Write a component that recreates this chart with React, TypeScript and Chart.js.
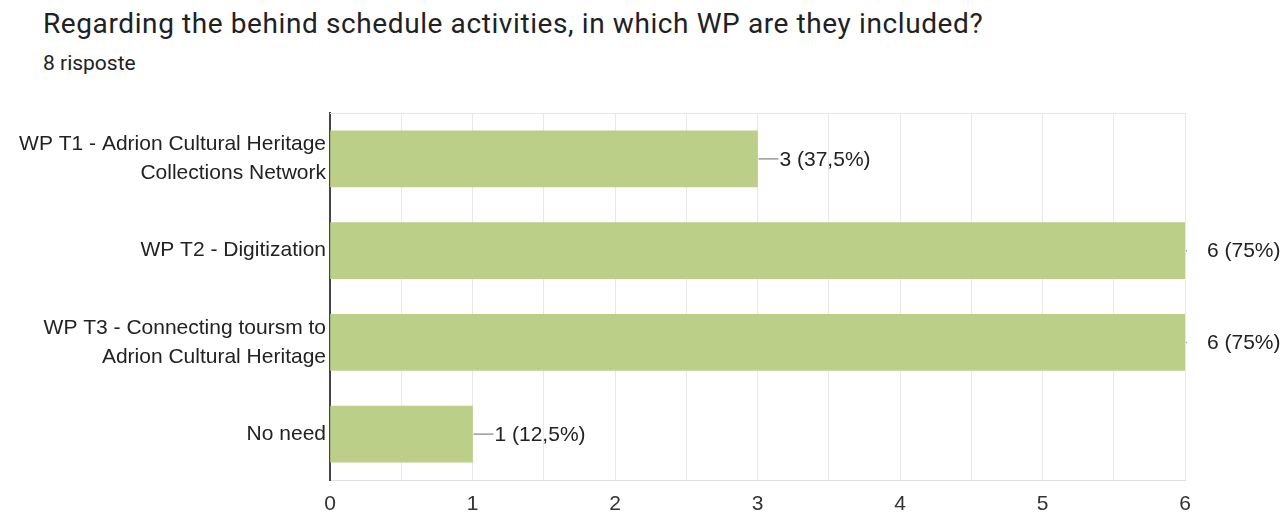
import React, { useEffect, useRef } from "react";
import { Chart, registerables } from "chart.js";

Chart.register(...registerables);

const TITLE = "Regarding the behind schedule activities, in which WP are they included?";
const SUBTITLE = "8 risposte";
const TOTAL_RESPONSES = 8;
const categories: (string | string[])[] = [
  ["WP T1 - Adrion Cultural Heritage", "Collections Network"],
  "WP T2 - Digitization",
  ["WP T3 - Connecting toursm to", "Adrion Cultural Heritage"],
  "No need",
];
const values = [3, 6, 6, 1];
const xTickLabels = ["0", "1", "2", "3", "4", "5", "6"];

const FONT_FAMILY = "'Liberation Sans', Arial, sans-serif";
const LABEL_FONT = `21px ${FONT_FAMILY}`;

const valueLabelPlugin = {
  id: "valueLabels",
  afterDatasetsDraw(chart: any) {
    const ctx = chart.ctx;
    const area = chart.chartArea;
    const meta = chart.getDatasetMeta(0);
    ctx.save();
    meta.data.forEach((el: any, i: number) => {
      const v = values[i];
      const pct = String((v / TOTAL_RESPONSES) * 100).replace(".", ",");
      const text = `${v} (${pct}%)`;
      const x = el.x;
      const y = el.y;
      const lineEnd = Math.min(x + 21, area.right + 2);
      ctx.strokeStyle = "#9a9a9a";
      ctx.lineWidth = 1.5;
      ctx.beginPath();
      ctx.moveTo(x + 1, y);
      ctx.lineTo(lineEnd, y);
      ctx.stroke();
      ctx.fillStyle = "#222222";
      ctx.font = LABEL_FONT;
      ctx.textAlign = "left";
      ctx.textBaseline = "middle";
      ctx.fillText(text, x + 22, y + 1);
    });
    // top frame line
    ctx.strokeStyle = "#e6e6e6";
    ctx.lineWidth = 1;
    ctx.beginPath();
    ctx.moveTo(area.left, area.top + 0.5);
    ctx.lineTo(area.right, area.top + 0.5);
    ctx.stroke();
    ctx.restore();
  },
};

export default function App() {
  const canvasRef = useRef<HTMLCanvasElement | null>(null);

  useEffect(() => {
    if (!canvasRef.current) return;
    const chart = new Chart(canvasRef.current, {
      type: "bar",
      data: {
        labels: categories as any,
        datasets: [
          {
            data: values,
            backgroundColor: "#bccf88",
            borderWidth: 0,
            barThickness: 56,
          },
        ],
      },
      options: {
        indexAxis: "y",
        animation: false,
        responsive: false,
        maintainAspectRatio: false,
        layout: { padding: { top: 113, right: 100, left: 0, bottom: 0 } },
        plugins: {
          legend: { display: false },
          tooltip: { enabled: false },
          title: { display: false },
        },
        scales: {
          x: {
            min: 0,
            max: 6,
            ticks: {
              stepSize: 0.5,
              autoSkip: false,
              maxRotation: 0,
              padding: 12,
              color: "#333333",
              font: { family: FONT_FAMILY, size: 21 },
              callback: (val: any) => {
                const n = Number(val);
                return Number.isInteger(n) ? xTickLabels[n] : "";
              },
            },
            grid: { color: "#e8e8e8", lineWidth: 1, drawTicks: false },
            border: { color: "#e0e0e0", width: 1 },
            afterFit: (scale: any) => {
              scale.height = 33;
            },
          },
          y: {
            ticks: {
              padding: 4,
              color: "#222222",
              font: { family: FONT_FAMILY, size: 21, lineHeight: 1.38 },
              autoSkip: false,
            },
            grid: { display: false, drawTicks: false },
            border: { color: "#444444", width: 2 },
            afterFit: (scale: any) => {
              scale.width = 330;
            },
          },
        },
      },
      plugins: [valueLabelPlugin],
    });
    return () => chart.destroy();
  }, []);

  return (
    <div style={{ position: "absolute", left: 0, top: 0, width: 1285, height: 513, background: "#fff" }}>
      <div
        style={{
          position: "absolute",
          left: 43,
          top: 7,
          fontFamily: "Roboto, sans-serif",
          fontSize: 28,
          letterSpacing: "0.6px",
          color: "#202124",
          whiteSpace: "nowrap",
          lineHeight: "34px",
        }}
      >
        {TITLE}
      </div>
      <div
        style={{
          position: "absolute",
          left: 43,
          top: 49,
          fontFamily: "Roboto, sans-serif",
          fontSize: 21,
          color: "#202124",
          whiteSpace: "nowrap",
          lineHeight: "28px",
        }}
      >
        {SUBTITLE}
      </div>
      <canvas ref={canvasRef} width={1285} height={513} style={{ position: "absolute", left: 0, top: 0 }} />
    </div>
  );
}
